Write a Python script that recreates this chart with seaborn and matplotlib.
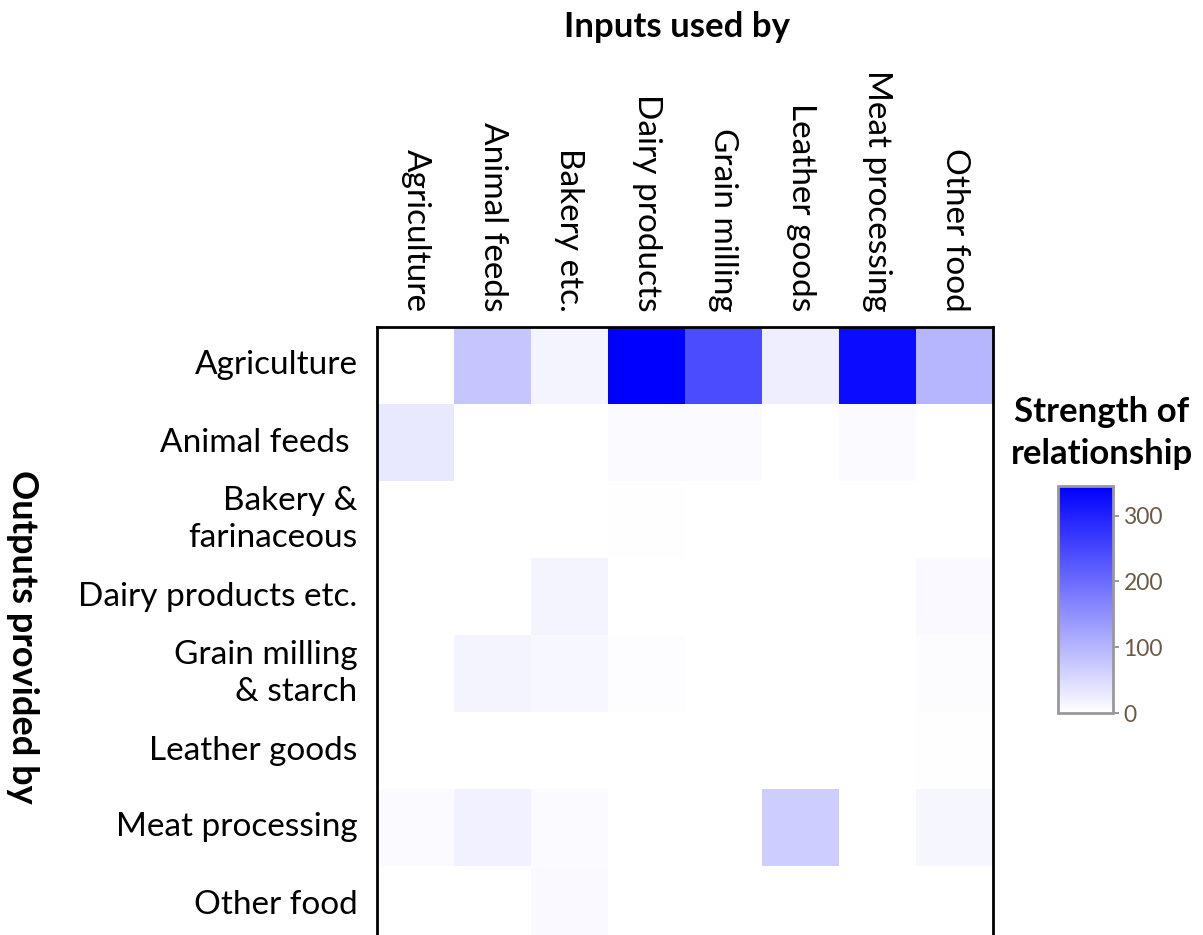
import numpy as np
import pandas as pd
import matplotlib
matplotlib.use("Agg")
import matplotlib.pyplot as plt
import matplotlib.colors as mcolors
import seaborn as sns

# sectors
inputs_used_by = ["Agriculture", "Animal feeds", "Bakery etc.", "Dairy products",
                  "Grain milling", "Leather goods", "Meat processing", "Other food"]
outputs_provided_by = ["Agriculture", "Animal feeds ", "Bakery &\nfarinaceous",
                       "Dairy products etc.", "Grain milling\n& starch", "Leather goods",
                       "Meat processing", "Other food"]

agriculture = [0, 77, 16, 345, 242, 24, 329, 99]
animal_feeds = [31, 0.5, 0.5, 8, 6, 0, 8, 1]
bakery = [0, 0, 0, 2, 0, 0, 0, 0]
dairy = [0, 0, 15, 0, 0, 0, 0, 9]
grain = [0, 16, 12, 3, 0, 0, 0, 5]
leather = [0, 0, 0, 0, 0, 0, 0, 2]
meat = [6, 20, 6, 0, 0, 68, 0, 13]
other_food = [0, 0, 9, 0, 0, 0, 0, 0]

vmax = 345
cbar_ticks = [0, 100, 200, 300]

df = pd.DataFrame([agriculture, animal_feeds, bakery, dairy, grain, leather, meat, other_food],
                  index=outputs_provided_by, columns=inputs_used_by)

sns.set_style("white")
plt.rcParams['font.family'] = ['Lato', 'DejaVu Sans']
plt.rcParams['text.color'] = 'black'

W, H = 1203, 935
fig = plt.figure(figsize=(W / 100, H / 100), dpi=100)
ax = fig.add_axes([377 / W, (H - 943) / H, 616 / W, 616 / H])
cax = fig.add_axes([1058 / W, (H - 713) / H, 55 / W, 227 / H])

cmap = mcolors.LinearSegmentedColormap.from_list('wb', [(1, 1, 1), (0, 0, 1)], N=256)
sns.heatmap(df, ax=ax, cmap=cmap, vmin=0, vmax=vmax, cbar_ax=cax,
            cbar_kws={'ticks': cbar_ticks})

ax.xaxis.tick_top()
ax.set_xlabel('')
ax.set_ylabel('')
ax.set_xticklabels(inputs_used_by, rotation=-90, ha='center', va='bottom',
                   fontsize=24, color='black')
ax.set_yticklabels(outputs_provided_by, rotation=0, ha='right', va='center',
                   fontsize=24, color='black', linespacing=1.3)
ax.tick_params(axis='x', length=0, pad=11)
ax.tick_params(axis='y', length=0, pad=14)
for sp in ax.spines.values():
    sp.set_visible(True)
    sp.set_linewidth(2)
    sp.set_color('black')

cax.tick_params(labelsize=16.5, colors='#888888', labelcolor='#6b5a45', length=4, width=1.2)
cax.yaxis.set_ticks_position('right')
cbar = ax.collections[0].colorbar
cbar.outline.set_edgecolor('#999999')
cbar.outline.set_linewidth(2)

fig.text(677 / W, 1 - 27 / H, "Inputs used by", fontsize=25, fontweight='bold',
         ha='center', va='center')
fig.text(22 / W, 1 - 637 / H, "Outputs provided by", fontsize=26, fontweight='bold',
         ha='center', va='center', rotation=-90)
fig.text(1102 / W, 1 - 433 / H, "Strength of\nrelationship", fontsize=25, fontweight='bold',
         ha='center', va='center', linespacing=1.35)

fig.savefig("out.png", dpi=100)
